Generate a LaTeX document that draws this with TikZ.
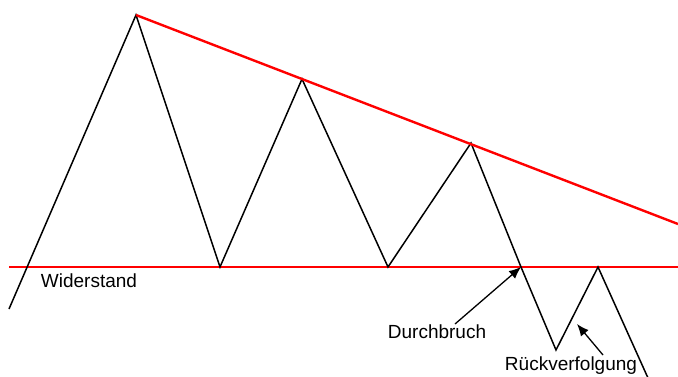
\documentclass[tikz,border=0pt]{standalone}
\usepackage{fontspec}
\setmainfont{Liberation Sans}
\usetikzlibrary{arrows.meta}
\begin{document}
\begin{tikzpicture}[x=1pt,y=-1pt,
  price/.style={black, line width=1.5pt, line join=miter},
  trend/.style={red, line width=2.4pt},
  level/.style={red, line width=1.5pt},
  lbl/.style={font=\fontsize{19}{21}\selectfont, inner sep=0pt},
  pointer/.style={black, line width=1.3pt, -{Latex[length=12pt,width=10pt]}}]
\useasboundingbox (0,0) rectangle (678,376);
\coordinate (s) at (9,309);
\coordinate (p1) at (136,15);
\coordinate (t1) at (220,267);
\coordinate (p2) at (302,79);
\coordinate (t2) at (388,267);
\coordinate (p3) at (471,143);
\coordinate (b) at (521,267);
\coordinate (t3) at (556,350);
\coordinate (p4) at (598,267);
\coordinate (e) at (648,378);
\coordinate (tr) at (678,224);
\coordinate (l0) at (9,267);
\coordinate (l1) at (678,267);
\draw[level] (l0) -- (l1);
\draw[price] (s) -- (p1) -- (t1) -- (p2) -- (t2) -- (p3) -- (b) -- (t3) -- (p4) -- (e);
\draw[trend] (p1) -- (tr);
\node[lbl] (w) at (89,281) {Widerstand};
\node[lbl] (d) at (437,332) {Durchbruch};
\node[lbl] (r) at (571,366) {Rückverfolgung};
\coordinate (da) at (455,324);
\coordinate (ra) at (603,355);
\coordinate (rh) at (577,324);
\draw[pointer] (da) -- (b);
\draw[pointer] (ra) -- (rh);
\end{tikzpicture}
\end{document}
